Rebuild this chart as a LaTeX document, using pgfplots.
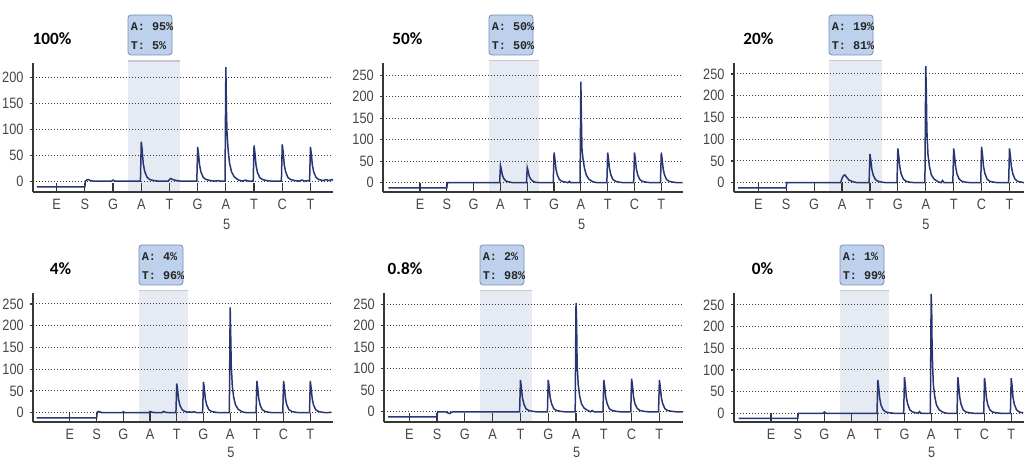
\documentclass[border=0pt]{standalone}
\usepackage{fontspec}
\setmainfont{Liberation Sans}
\newfontfamily\tickfont[FakeStretch=0.85]{Liberation Sans}
\newfontfamily\titlefont{Carlito}
\newfontfamily\tipfont{Liberation Mono}
\usepackage{pgfplots}
\pgfplotsset{compat=1.18}

\definecolor{trace}{RGB}{40,55,115}
\definecolor{shade}{RGB}{230,235,243}
\definecolor{shadeedge}{RGB}{200,200,205}
\definecolor{tipfill}{RGB}{189,208,236}
\definecolor{tipedge}{RGB}{120,140,180}
\definecolor{axisgray}{RGB}{55,55,55}
\definecolor{labelgray}{RGB}{70,70,70}

\pgfplotsset{
  pyro/.style={
    scale only axis, height=64.5pt, anchor=south west,
    axis lines*=left, axis line style={-, axisgray, line width=0.9pt},
    clip=false, set layers,
    xtick={1,...,10},
    xticklabels={E,S,G,A,T,G,A,T,C,T},
    ymajorgrids,
    grid style={axisgray, line width=0.5pt, dash pattern=on 0.5pt off 1pt},
    xtick align=inside, ytick align=outside,
    xtick style={axisgray, line width=0.6pt, /pgfplots/major tick length=4.5pt},
    ytick style={axisgray, line width=0.6pt, /pgfplots/major tick length=1.5pt},
    tick label style={font=\tickfont\fontsize{7.5}{7.5}\selectfont, text=labelgray},
    yticklabel style={inner xsep=0.3pt},
    /pgf/number format/assume math mode=true,
  },
  pk/.style={trace, line width=0.75pt},
  sh/.style={fill=shade, draw=none, on layer=axis background},
  shl/.style={draw=shadeedge, line width=0.6pt, on layer=axis background},
}

\newcommand\tip[4]{%
  \draw[tipedge, fill=tipfill, line width=0.4pt, rounded corners=1.5pt]
    (#1pt,#2pt) rectangle ++(22pt,-20pt);
  \node[anchor=west, inner sep=0pt, text=black!85, font=\tipfont\bfseries\fontsize{5.9}{6}\selectfont]
    at ({#1pt+1.2pt},{#2pt-6pt}) {#3};
  \node[anchor=west, inner sep=0pt, text=black!85, font=\tipfont\bfseries\fontsize{5.9}{6}\selectfont]
    at ({#1pt+1.2pt},{#2pt-15.3pt}) {#4};
}

\begin{document}
\begin{tikzpicture}

% ---- 100%
\begin{axis}[pyro, at={(16.5pt,133.5pt)}, width=150pt,
  xmin=0.16, xmax=10.8, ymin=-21, ymax=228, ytick={0,50,...,200}]
\addplot[sh] coordinates {(3.54,-21) (3.54,232) (5.37,232) (5.37,-21)} -- cycle;
\addplot[shl] coordinates {(3.54,232) (5.37,232)};
\addplot[pk] coordinates {
(0.3,-11) (2,-11) (2.02,0) (2.06,2) (2.12,3) (2.2,1) (2.3,0) (2.95,0) (3,2) (3.06,0)
(3.97,0)(4,76)(4.03,61)(4.07,34)(4.12,19)(4.2,8)(4.3,3)(4.45,1)(4.6,0)
(4.95,0)(5,3)(5.05,5)(5.12,3)(5.25,1)(5.4,0)
(5.97,0)(6,66)(6.03,53)(6.07,30)(6.12,17)(6.2,7)(6.3,3)(6.45,1)(6.6,0)(6.7,1)(6.8,0)
(6.97,0)(7,220)(7.02,140)(7.04,95)(7.08,60)(7.13,35)(7.2,18)(7.3,8)(7.45,2)(7.6,0)(7.7,2)(7.8,0)
(7.97,0)(8,69)(8.03,55)(8.07,31)(8.12,17)(8.2,7)(8.3,3)(8.45,1)(8.6,0)
(8.97,0)(9,71)(9.03,57)(9.07,32)(9.12,18)(9.2,7)(9.3,3)(9.45,1)(9.6,0)(9.7,2)(9.8,0)(9.9,1)
(9.97,0)(10,66)(10.03,53)(10.07,30)(10.12,17)(10.2,7)(10.3,3)(10.45,1)(10.55,3)(10.65,1)(10.75,3)(10.8,2)
};
\end{axis}

% ---- 50%
\begin{axis}[pyro, at={(191.65pt,133.65pt)}, width=149.85pt,
  xmin=-0.37, xmax=10.81, ymin=-21, ymax=279, ytick={0,50,...,250}]
\addplot[sh] coordinates {(3.57,-21) (3.57,283.6) (5.44,283.6) (5.44,-21)} -- cycle;
\addplot[shl] coordinates {(3.57,283.6) (5.44,283.6)};
\addplot[pk] coordinates {
(-0.18,-12)(2,-12)(2.02,0)(3.97,0)(4,40)(4.03,32)(4.07,18)(4.12,10)(4.2,4)(4.3,2)(4.45,0)
(4.97,0)(5,35)(5.03,28)(5.07,16)(5.12,9)(5.2,4)(5.3,1)(5.45,0)
(5.97,0)(6,70)(6.03,56)(6.07,32)(6.12,18)(6.2,7)(6.3,3)(6.45,1)(6.52,0)(6.57,3)(6.62,0)
(6.97,0)(7,235)(7.02,150)(7.04,80)(7.08,55)(7.13,35)(7.2,18)(7.3,8)(7.45,2)(7.6,0)
(7.97,0)(8,70)(8.03,56)(8.07,32)(8.12,18)(8.2,7)(8.3,3)(8.45,1)(8.6,0)
(8.97,0)(9,70)(9.03,56)(9.07,32)(9.12,18)(9.2,7)(9.3,3)(9.45,1)(9.6,0)
(9.97,0)(10,70)(10.03,56)(10.07,32)(10.12,18)(10.2,7)(10.3,3)(10.45,1)(10.6,0)(10.8,0)
};
\end{axis}

% ---- 20%
\begin{axis}[pyro, at={(367pt,133.65pt)}, width=145pt,
  xmin=0.13, xmax=10.52, ymin=-20.7, ymax=276, ytick={0,50,...,250}]
\addplot[sh] coordinates {(3.54,-20.7) (3.54,280.6) (5.43,280.6) (5.43,-20.7)} -- cycle;
\addplot[shl] coordinates {(3.54,280.6) (5.43,280.6)};
\addplot[pk] coordinates {
(0.28,-12)(2,-12)(2.02,0)(3.95,0)(4,10)(4.05,16)(4.1,18)(4.15,14)(4.25,6)(4.4,2)(4.55,0)
(4.97,0)(5,66)(5.03,53)(5.07,30)(5.12,17)(5.2,7)(5.3,3)(5.45,1)(5.6,0)
(5.97,0)(6,79)(6.03,63)(6.07,36)(6.12,20)(6.2,8)(6.3,3)(6.45,1)(6.6,0)
(6.97,0)(7,268)(7.02,210)(7.04,120)(7.08,65)(7.13,38)(7.2,18)(7.3,8)(7.45,2)(7.55,0)(7.6,5)(7.66,0)
(7.97,0)(8,79)(8.03,63)(8.07,36)(8.12,20)(8.2,8)(8.3,3)(8.45,1)(8.6,0)
(8.97,0)(9,83)(9.03,66)(9.07,37)(9.12,21)(9.2,8)(9.3,3)(9.45,1)(9.6,0)
(9.97,0)(10,79)(10.03,63)(10.07,36)(10.12,20)(10.2,8)(10.3,3)(10.45,1)(10.52,0)
};
\end{axis}

% ---- 4%
\begin{axis}[pyro, at={(16.65pt,18.65pt)}, width=149.85pt,
  xmin=-0.37, xmax=10.85, ymin=-20.7, ymax=276, ytick={0,50,...,250}]
\addplot[sh] coordinates {(3.6,-20.7) (3.6,280.6) (5.41,280.6) (5.41,-20.7)} -- cycle;
\addplot[shl] coordinates {(3.6,280.6) (5.41,280.6)};
\addplot[pk] coordinates {
(-0.25,-12)(2,-12)(2.02,0)(2.06,3)(2.12,2)(2.2,0)(2.95,0)(3,2)(3.06,0)(3.95,0)(4,3)(4.08,1)(4.2,0)(4.45,0)(4.5,3)(4.58,1)(4.7,0)
(4.97,0)(5,67)(5.03,54)(5.07,30)(5.12,17)(5.2,7)(5.3,3)(5.4,1)(5.45,2)(5.55,1)(5.65,2)(5.75,0)
(5.97,0)(6,71)(6.03,57)(6.07,32)(6.12,18)(6.2,7)(6.3,3)(6.45,1)(6.6,0)
(6.97,0)(7,242)(7.02,182)(7.04,110)(7.08,62)(7.13,36)(7.2,18)(7.3,8)(7.45,2)(7.6,0)
(7.97,0)(8,73)(8.03,58)(8.07,33)(8.12,18)(8.2,7)(8.3,3)(8.45,1)(8.6,0)
(8.97,0)(9,73)(9.03,58)(9.07,33)(9.12,18)(9.2,7)(9.3,3)(9.45,1)(9.6,0)
(9.97,0)(10,73)(10.03,58)(10.07,33)(10.12,18)(10.2,7)(10.3,3)(10.45,1)(10.6,0)(10.8,1)
};
\end{axis}

% ---- 0.8%
\begin{axis}[pyro, at={(192.15pt,18.65pt)}, width=149.35pt,
  xmin=0.1, xmax=10.85, ymin=-23, ymax=277, ytick={0,50,...,250}]
\addplot[sh] coordinates {(3.54,-23) (3.54,281.6) (5.41,281.6) (5.41,-23)} -- cycle;
\addplot[shl] coordinates {(3.54,281.6) (5.41,281.6)};
\addplot[pk] coordinates {
(0.24,-12)(2,-12)(2.02,0)(2.3,0)(2.4,-3)(2.46,-4)(2.52,-1)(2.58,0)
(4.97,0)(5,74)(5.03,59)(5.07,33)(5.12,19)(5.2,7)(5.3,3)(5.45,1)(5.6,0)
(5.97,0)(6,74)(6.03,59)(6.07,33)(6.12,19)(6.2,7)(6.3,3)(6.45,1)(6.6,0)
(6.97,0)(7,253)(7.02,210)(7.04,110)(7.08,63)(7.13,37)(7.2,18)(7.3,8)(7.45,2)(7.52,0)(7.58,3)(7.65,0)
(7.97,0)(8,74)(8.03,59)(8.07,33)(8.12,19)(8.2,7)(8.3,3)(8.45,1)(8.6,0)
(8.97,0)(9,77)(9.03,62)(9.07,35)(9.12,19)(9.2,8)(9.3,3)(9.45,1)(9.6,0)
(9.97,0)(10,74)(10.03,59)(10.07,33)(10.12,19)(10.2,7)(10.3,3)(10.45,1)(10.6,0)(10.85,0)
};
\end{axis}

% ---- 0%
\begin{axis}[pyro, at={(367pt,18.65pt)}, width=145pt,
  xmin=-0.39, xmax=10.48, ymin=-19.4, ymax=278, ytick={0,50,...,250}]
\addplot[sh] coordinates {(3.58,-19.4) (3.58,282.6) (5.42,282.6) (5.42,-19.4)} -- cycle;
\addplot[shl] coordinates {(3.58,282.6) (5.42,282.6)};
\addplot[pk] coordinates {
(-0.22,-12)(2,-12)(2.02,0)(2.95,0)(3,3)(3.06,0)
(4.97,0)(5,77)(5.03,62)(5.07,35)(5.12,19)(5.2,8)(5.3,3)(5.45,1)(5.6,0)
(5.97,0)(6,83)(6.03,66)(6.07,37)(6.12,21)(6.2,8)(6.3,3)(6.45,1)(6.52,0)(6.56,4)(6.62,0)
(6.97,0)(7,275)(7.02,240)(7.03,175)(7.05,120)(7.08,68)(7.13,40)(7.2,19)(7.3,8)(7.45,2)(7.6,0)
(7.97,0)(8,83)(8.03,66)(8.07,37)(8.12,21)(8.2,8)(8.3,3)(8.45,1)(8.6,0)
(8.97,0)(9,81)(9.03,65)(9.07,36)(9.12,20)(9.2,8)(9.3,3)(9.45,1)(9.6,0)
(9.97,0)(10,81)(10.03,65)(10.07,36)(10.12,20)(10.2,8)(10.3,3)(10.45,1)
};
\end{axis}

% panel titles
\begin{scope}[every node/.style={font=\titlefont\bfseries\fontsize{8.6}{9}\selectfont, inner sep=0pt}]
\node at (26pt,210pt) {100\%};
\node at (203.7pt,210pt) {50\%};
\node at (379.2pt,210pt) {20\%};
\node at (30.25pt,95pt) {4\%};
\node at (202.5pt,95pt) {0.8\%};
\node at (381.25pt,95pt) {0\%};
\end{scope}

% tooltips
\tip{64}{222}{A: 95\%}{T: 5\%}
\tip{244.5}{222}{A: 50\%}{T: 50\%}
\tip{414.5}{222}{A: 19\%}{T: 81\%}
\tip{69.5}{107}{A: 4\%}{T: 96\%}
\tip{240}{107}{A: 2\%}{T: 98\%}
\tip{420}{107}{A: 1\%}{T: 99\%}

% position number under the A
\begin{scope}[every node/.style={font=\tickfont\fontsize{7.5}{7.5}\selectfont, text=labelgray, inner sep=0pt}]
\node at (113.35pt,117.5pt) {5};
\node at (290.85pt,117.5pt) {5};
\node at (463pt,117.5pt) {5};
\node[anchor=south] at (115.5pt,0.6pt) {5};
\node[anchor=south] at (288.35pt,0.6pt) {5};
\node[anchor=south] at (465.85pt,0.6pt) {5};
\end{scope}

\pgfresetboundingbox
\path (0,0) rectangle (512pt,229.5pt);
\end{tikzpicture}
\end{document}
